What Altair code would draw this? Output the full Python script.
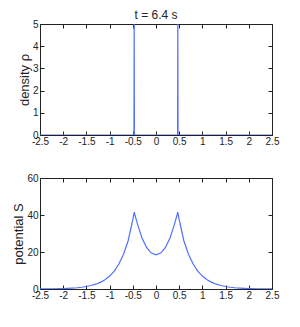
import altair as alt
import pandas as pd

# density rho (two sharp spikes at about +-0.47)
rho_x = [-2.5, -0.49, -0.475, -0.47, -0.465, -0.45, 0.45, 0.465, 0.47, 0.475, 0.49, 2.5]
rho_y = [0, 0, 0, 5, 0, 0, 0, 0, 5, 0, 0, 0]

# potential S
s_x = [-2.5, -2.4, -2.2, -2.0, -1.9, -1.8, -1.7, -1.6, -1.5, -1.4, -1.3, -1.2, -1.1, -1.0,
       -0.9, -0.8, -0.7, -0.6, -0.5, -0.47, -0.4, -0.3, -0.2, -0.1, 0.0,
       0.1, 0.2, 0.3, 0.4, 0.47, 0.5, 0.6, 0.7, 0.8, 0.9, 1.0,
       1.1, 1.2, 1.3, 1.4, 1.5, 1.6, 1.7, 1.8, 1.9, 2.0, 2.2, 2.4, 2.5]
s_y = [0.05, 0.07, 0.13, 0.26, 0.36, 0.5, 0.69, 0.96, 1.34, 1.87, 2.6, 3.6, 5.0, 7.0,
       9.7, 13.5, 18.8, 26.1, 37.5, 41.5, 35.2, 27.4, 22.3, 19.4, 18.5,
       19.4, 22.3, 27.4, 35.2, 41.5, 37.5, 26.1, 18.8, 13.5, 9.7, 7.0,
       5.0, 3.6, 2.6, 1.87, 1.34, 0.96, 0.69, 0.5, 0.36, 0.26, 0.13, 0.07, 0.05]

x_ticks = [-2.5, -2, -1.5, -1, -0.5, 0, 0.5, 1, 1.5, 2, 2.5]

rho_df = pd.DataFrame({"x": rho_x, "y": rho_y})
s_df = pd.DataFrame({"x": s_x, "y": s_y})

BLUE = "#5070ff"
FONT = "Liberation Sans Narrow, Liberation Sans"
TFONT = "Liberation Sans"
W, H = 232, 111
TS = 4
LBL = "'' + datum.value"


def panel(df, ymax, yticks, ytitle):
    xs = alt.Scale(domain=[-2.5, 2.5], nice=False)
    ys = alt.Scale(domain=[0, ymax], nice=False)
    main = alt.Chart(df).mark_line(color=BLUE, strokeWidth=1.2, clip=True).encode(
        x=alt.X("x:Q", scale=xs, axis=alt.Axis(
            values=x_ticks, title=None, domain=False, tickSize=TS, offset=-TS,
            labelPadding=1, grid=False, tickColor="#222", labelColor="#222",
            labelFont=FONT, labelFontSize=10, labelFlush=False, labelExpr=LBL,
            labelOverlap=False)),
        y=alt.Y("y:Q", scale=ys, axis=alt.Axis(
            values=yticks, title=ytitle, domain=False, tickSize=TS, offset=-TS,
            labelPadding=2, grid=False, tickColor="#222", labelColor="#222",
            labelFont=FONT, labelFontSize=10, titleFont=TFONT, titleFontSize=13,
            titleFontWeight="normal", titlePadding=1, titleColor="#222",
            labelExpr=LBL)),
    )
    other = alt.Chart(df).mark_line(opacity=0).encode(
        x=alt.X("x:Q", scale=xs, axis=alt.Axis(
            orient="top", values=x_ticks, labels=False, title=None, domain=False,
            tickSize=TS, offset=-TS, grid=False, tickColor="#222")),
        y=alt.Y("y:Q", scale=ys, axis=alt.Axis(
            orient="right", values=yticks, labels=False, title=None, domain=False,
            tickSize=TS, offset=-TS, grid=False, tickColor="#222")),
    )
    return alt.layer(main, other).resolve_axis(x="independent", y="independent").properties(
        width=W, height=H)


top = panel(rho_df, 5, [0, 1, 2, 3, 4, 5], "density \u03c1").properties(
    title=alt.TitleParams("t = 6.4 s", font=FONT, fontSize=12, fontWeight="normal",
                          color="#222", offset=-3))
bottom = panel(s_df, 60, [0, 20, 40, 60], "potential S")

chart = alt.vconcat(top, bottom, spacing=25).configure_view(
    stroke="#222", strokeWidth=1
).properties(padding={"left": 4, "top": 0, "right": 5, "bottom": 5})

chart.save("out.html", embed_options={"renderer": "svg", "actions": False})
